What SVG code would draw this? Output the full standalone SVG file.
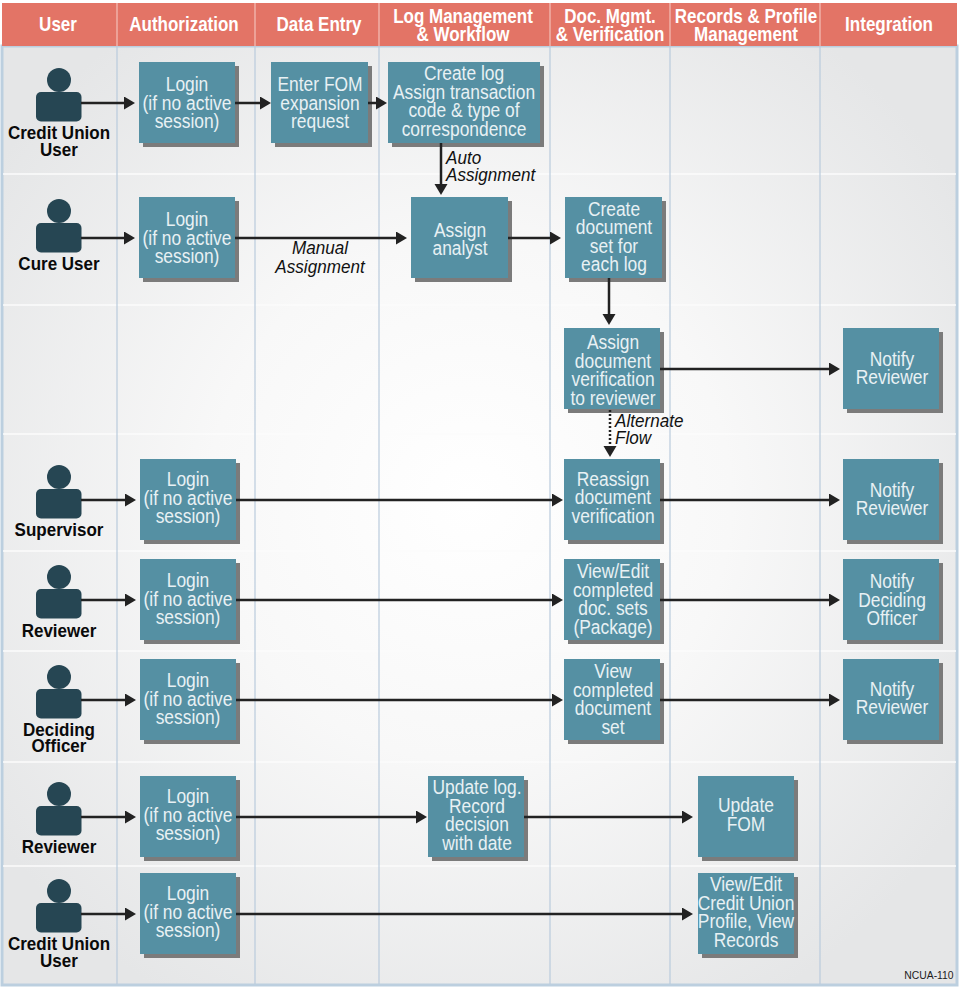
<svg xmlns="http://www.w3.org/2000/svg" width="960" height="987" viewBox="0 0 960 987">
<style>
text{font-family:"Liberation Sans",Arial,sans-serif}
.h{font-weight:700;font-size:20px;fill:#fff;text-anchor:middle}
.b{font-size:20px;fill:#e8f1f4;text-anchor:middle}
.a{font-weight:700;font-size:18.5px;fill:#0a0a0a;text-anchor:middle}
.i{font-style:italic;font-size:18px;fill:#111}
.box{fill:#5590a3}
.sh{fill:#7b7b7b}
.p{fill:#264653}
.c{fill:none;stroke:#222;stroke-width:2.5;marker-end:url(#ah)}
.d{stroke-dasharray:2 2}
.col{stroke:#b9cbdc;stroke-width:1.2}
.row{stroke:#fbfcfc;stroke-width:1.5}
</style>
<defs>
<radialGradient id="bg" gradientUnits="userSpaceOnUse" cx="470" cy="500" r="580">
<stop offset="0" stop-color="#ffffff"/><stop offset="0.45" stop-color="#f8f8f8"/><stop offset="1" stop-color="#e5e6e7"/>
</radialGradient>
<marker id="ah" markerUnits="userSpaceOnUse" markerWidth="12" markerHeight="14" refX="8" refY="6.5" orient="auto">
<path d="M0,0L11,6.5L0,13z" fill="#222"/>
</marker>
<g id="person"><circle cx="59" cy="80" r="12" class="p"/><rect x="36" y="92" width="45.500" height="29.500" rx="5" class="p"/></g>
</defs>
<rect width="960" height="987" fill="#fff"/>
<rect x="2" y="46" width="955" height="939" fill="url(#bg)" stroke="#bccfdf" stroke-width="3"/>
<rect x="2" y="3" width="955" height="43" fill="#e37466"/>
<g id="grid">
<path class="row" d="M3 174H956M3 305H956M3 434H956M3 551H956M3 651H956M3 762H956M3 866H956"/>
<path class="col" d="M117 46V984M255 46V984M379 46V984M550 46V984M670 46V984M820 46V984"/>
<path stroke="#f3c0b8" stroke-width="1.2" d="M117 3V46M255 3V46M379 3V46M550 3V46M670 3V46M820 3V46"/>
</g>
<g id="headers">
<text class="h" transform="translate(58 31) scale(.85 1)">User</text>
<text class="h" transform="translate(184 31) scale(.85 1)">Authorization</text>
<text class="h" transform="translate(319 31) scale(.85 1)">Data Entry</text>
<text class="h" transform="translate(463 23) scale(.85 1)">Log Management</text>
<text class="h" transform="translate(463 41) scale(.85 1)">&amp; Workflow</text>
<text class="h" transform="translate(610 23) scale(.85 1)">Doc. Mgmt.</text>
<text class="h" transform="translate(610 41) scale(.85 1)">&amp; Verification</text>
<text class="h" transform="translate(746 23) scale(.85 1)">Records &amp; Profile</text>
<text class="h" transform="translate(746 41) scale(.85 1)">Management</text>
<text class="h" transform="translate(889 31) scale(.85 1)">Integration</text>
</g>
<g id="actor-credit-union-1"><use href="#person"/>
<text class="a" transform="translate(59 139) scale(.92 1)">Credit Union</text><text class="a" transform="translate(59 156) scale(.92 1)">User</text></g>
<g id="actor-cure"><use href="#person" y="131"/>
<text class="a" transform="translate(59 270) scale(.92 1)">Cure User</text></g>
<g id="actor-supervisor"><use href="#person" y="397"/>
<text class="a" transform="translate(59 536) scale(.92 1)">Supervisor</text></g>
<g id="actor-reviewer-1"><use href="#person" y="497"/>
<text class="a" transform="translate(59 637) scale(.92 1)">Reviewer</text></g>
<g id="actor-deciding"><use href="#person" y="597"/>
<text class="a" transform="translate(59 736) scale(.92 1)">Deciding</text><text class="a" transform="translate(59 752) scale(.92 1)">Officer</text></g>
<g id="actor-reviewer-2"><use href="#person" y="714"/>
<text class="a" transform="translate(59 853) scale(.92 1)">Reviewer</text></g>
<g id="actor-credit-union-2"><use href="#person" y="811"/>
<text class="a" transform="translate(59 950) scale(.92 1)">Credit Union</text><text class="a" transform="translate(59 967) scale(.92 1)">User</text></g>

<g id="login-1"><rect class="sh" x="143" y="66" width="96" height="81"/><rect class="box" x="139" y="62" width="96" height="81"/>
<text class="b" transform="translate(187 91) scale(.87 1)">Login</text><text class="b" transform="translate(187 109.500) scale(.87 1)">(if no active</text><text class="b" transform="translate(187 128) scale(.87 1)">session)</text></g>
<g id="enter-fom"><rect class="sh" x="275" y="66" width="97" height="81"/><rect class="box" x="271" y="62" width="97" height="81"/>
<text class="b" transform="translate(320 91) scale(.87 1)">Enter FOM</text><text class="b" transform="translate(320 109.500) scale(.87 1)">expansion</text><text class="b" transform="translate(320 128) scale(.87 1)">request</text></g>
<g id="create-log"><rect class="sh" x="392" y="66" width="152" height="81"/><rect class="box" x="388" y="62" width="152" height="81"/>
<text class="b" transform="translate(464 80) scale(.87 1)">Create log</text><text class="b" transform="translate(464 98.500) scale(.87 1)">Assign transaction</text><text class="b" transform="translate(464 117) scale(.87 1)">code &amp; type of</text><text class="b" transform="translate(464 136) scale(.87 1)">correspondence</text></g>
<g id="login-2"><rect class="sh" x="143" y="201" width="96" height="81"/><rect class="box" x="139" y="197" width="96" height="81"/>
<text class="b" transform="translate(187 226) scale(.87 1)">Login</text><text class="b" transform="translate(187 244.500) scale(.87 1)">(if no active</text><text class="b" transform="translate(187 263) scale(.87 1)">session)</text></g>
<g id="assign-analyst"><rect class="sh" x="415" y="201" width="97" height="81"/><rect class="box" x="411" y="197" width="97" height="81"/>
<text class="b" transform="translate(460 237) scale(.87 1)">Assign</text><text class="b" transform="translate(460 255) scale(.87 1)">analyst</text></g>
<g id="create-document-set"><rect class="sh" x="569" y="201" width="97" height="81"/><rect class="box" x="565" y="197" width="97" height="81"/>
<text class="b" transform="translate(614 215.500) scale(.87 1)">Create</text><text class="b" transform="translate(614 234) scale(.87 1)">document</text><text class="b" transform="translate(614 252.500) scale(.87 1)">set for</text><text class="b" transform="translate(614 271) scale(.87 1)">each log</text></g>
<g id="assign-verification"><rect class="sh" x="568" y="332" width="96" height="81"/><rect class="box" x="564" y="328" width="96" height="81"/>
<text class="b" transform="translate(613 349) scale(.87 1)">Assign</text><text class="b" transform="translate(613 367.500) scale(.87 1)">document</text><text class="b" transform="translate(613 386) scale(.87 1)">verification</text><text class="b" transform="translate(613 404.500) scale(.87 1)">to reviewer</text></g>
<g id="notify-1"><rect class="sh" x="847" y="332" width="96" height="81"/><rect class="box" x="843" y="328" width="96" height="81"/>
<text class="b" transform="translate(892 366) scale(.87 1)">Notify</text><text class="b" transform="translate(892 384) scale(.87 1)">Reviewer</text></g>
<g id="login-3"><rect class="sh" x="144" y="463" width="96" height="81"/><rect class="box" x="140" y="459" width="96" height="81"/>
<text class="b" transform="translate(188 486) scale(.87 1)">Login</text><text class="b" transform="translate(188 504.500) scale(.87 1)">(if no active</text><text class="b" transform="translate(188 523) scale(.87 1)">session)</text></g>
<g id="reassign"><rect class="sh" x="568" y="463" width="96" height="81"/><rect class="box" x="564" y="459" width="96" height="81"/>
<text class="b" transform="translate(613 486) scale(.87 1)">Reassign</text><text class="b" transform="translate(613 504) scale(.87 1)">document</text><text class="b" transform="translate(613 522.500) scale(.87 1)">verification</text></g>
<g id="notify-2"><rect class="sh" x="847" y="463" width="96" height="81"/><rect class="box" x="843" y="459" width="96" height="81"/>
<text class="b" transform="translate(892 497) scale(.87 1)">Notify</text><text class="b" transform="translate(892 515) scale(.87 1)">Reviewer</text></g>
<g id="login-4"><rect class="sh" x="144" y="563" width="96" height="81"/><rect class="box" x="140" y="559" width="96" height="81"/>
<text class="b" transform="translate(188 587) scale(.87 1)">Login</text><text class="b" transform="translate(188 605.500) scale(.87 1)">(if no active</text><text class="b" transform="translate(188 624) scale(.87 1)">session)</text></g>
<g id="view-edit-package"><rect class="sh" x="568" y="563" width="96" height="81"/><rect class="box" x="564" y="559" width="96" height="81"/>
<text class="b" transform="translate(613 578) scale(.87 1)">View/Edit</text><text class="b" transform="translate(613 596.500) scale(.87 1)">completed</text><text class="b" transform="translate(613 615) scale(.87 1)">doc. sets</text><text class="b" transform="translate(613 633.500) scale(.87 1)">(Package)</text></g>
<g id="notify-3"><rect class="sh" x="847" y="563" width="96" height="81"/><rect class="box" x="843" y="559" width="96" height="81"/>
<text class="b" transform="translate(892 588) scale(.87 1)">Notify</text><text class="b" transform="translate(892 607) scale(.87 1)">Deciding</text><text class="b" transform="translate(892 625) scale(.87 1)">Officer</text></g>
<g id="login-5"><rect class="sh" x="144" y="663" width="96" height="81"/><rect class="box" x="140" y="659" width="96" height="81"/>
<text class="b" transform="translate(188 687) scale(.87 1)">Login</text><text class="b" transform="translate(188 705.500) scale(.87 1)">(if no active</text><text class="b" transform="translate(188 724) scale(.87 1)">session)</text></g>
<g id="view-completed"><rect class="sh" x="568" y="663" width="96" height="81"/><rect class="box" x="564" y="659" width="96" height="81"/>
<text class="b" transform="translate(613 678) scale(.87 1)">View</text><text class="b" transform="translate(613 696.500) scale(.87 1)">completed</text><text class="b" transform="translate(613 715) scale(.87 1)">document</text><text class="b" transform="translate(613 733.500) scale(.87 1)">set</text></g>
<g id="notify-4"><rect class="sh" x="847" y="663" width="96" height="81"/><rect class="box" x="843" y="659" width="96" height="81"/>
<text class="b" transform="translate(892 696) scale(.87 1)">Notify</text><text class="b" transform="translate(892 714) scale(.87 1)">Reviewer</text></g>
<g id="login-6"><rect class="sh" x="144" y="780" width="96" height="81"/><rect class="box" x="140" y="776" width="96" height="81"/>
<text class="b" transform="translate(188 803) scale(.87 1)">Login</text><text class="b" transform="translate(188 821.500) scale(.87 1)">(if no active</text><text class="b" transform="translate(188 840) scale(.87 1)">session)</text></g>
<g id="update-log"><rect class="sh" x="432" y="780" width="96" height="81"/><rect class="box" x="428" y="776" width="96" height="81"/>
<text class="b" transform="translate(477 794) scale(.87 1)">Update log.</text><text class="b" transform="translate(477 812.500) scale(.87 1)">Record</text><text class="b" transform="translate(477 831) scale(.87 1)">decision</text><text class="b" transform="translate(477 849.500) scale(.87 1)">with date</text></g>
<g id="update-fom"><rect class="sh" x="702" y="780" width="96" height="81"/><rect class="box" x="698" y="776" width="96" height="81"/>
<text class="b" transform="translate(746 812) scale(.87 1)">Update</text><text class="b" transform="translate(746 831) scale(.87 1)">FOM</text></g>
<g id="login-7"><rect class="sh" x="144" y="877" width="96" height="81"/><rect class="box" x="140" y="873" width="96" height="81"/>
<text class="b" transform="translate(188 900) scale(.87 1)">Login</text><text class="b" transform="translate(188 918.500) scale(.87 1)">(if no active</text><text class="b" transform="translate(188 937) scale(.87 1)">session)</text></g>
<g id="view-edit-profile"><rect class="sh" x="702" y="877" width="96" height="81"/><rect class="box" x="698" y="873" width="96" height="81"/>
<text class="b" transform="translate(746 891) scale(.87 1)">View/Edit</text><text class="b" transform="translate(746 909.500) scale(.87 1)">Credit Union</text><text class="b" transform="translate(746 928) scale(.87 1)">Profile, View</text><text class="b" transform="translate(746 947) scale(.87 1)">Records</text></g>
<g id="connectors">
<path class="c" d="M81 103H132"/>
<path class="c" d="M235 103H268"/>
<path class="c" d="M368 103H384"/>
<path class="c" d="M441 143V192"/>
<path class="c" d="M81 238H132"/>
<path class="c" d="M235 238H404"/>
<path class="c" d="M508 238H558"/>
<path class="c" d="M609 278V322"/>
<path class="c" d="M660 369H837"/>
<path class="c d" d="M610 410V454"/>
<path class="c" d="M81 500H133"/>
<path class="c" d="M236 500H560"/>
<path class="c" d="M660 500H837"/>
<path class="c" d="M81 600H133"/>
<path class="c" d="M236 600H560"/>
<path class="c" d="M660 600H837"/>
<path class="c" d="M81 700H133"/>
<path class="c" d="M236 700H560"/>
<path class="c" d="M660 700H837"/>
<path class="c" d="M81 817H133"/>
<path class="c" d="M236 817H424"/>
<path class="c" d="M524 817H690"/>
<path class="c" d="M81 914H133"/>
<path class="c" d="M236 914H690"/>
<text class="i" transform="translate(446 164) scale(.95 1)">Auto</text>
<text class="i" transform="translate(446 181) scale(.95 1)">Assignment</text>
<text class="i" text-anchor="middle" transform="translate(320 254) scale(.95 1)">Manual</text>
<text class="i" text-anchor="middle" transform="translate(320 273) scale(.95 1)">Assignment</text>
<text class="i" transform="translate(615 427) scale(.95 1)">Alternate</text>
<text class="i" transform="translate(615 444) scale(.95 1)">Flow</text>
</g>
<text x="954" y="979" text-anchor="end" font-size="11.500" fill="#1c1c1c" transform="translate(95 0) scale(.9 1)">NCUA-110</text>
</svg>
